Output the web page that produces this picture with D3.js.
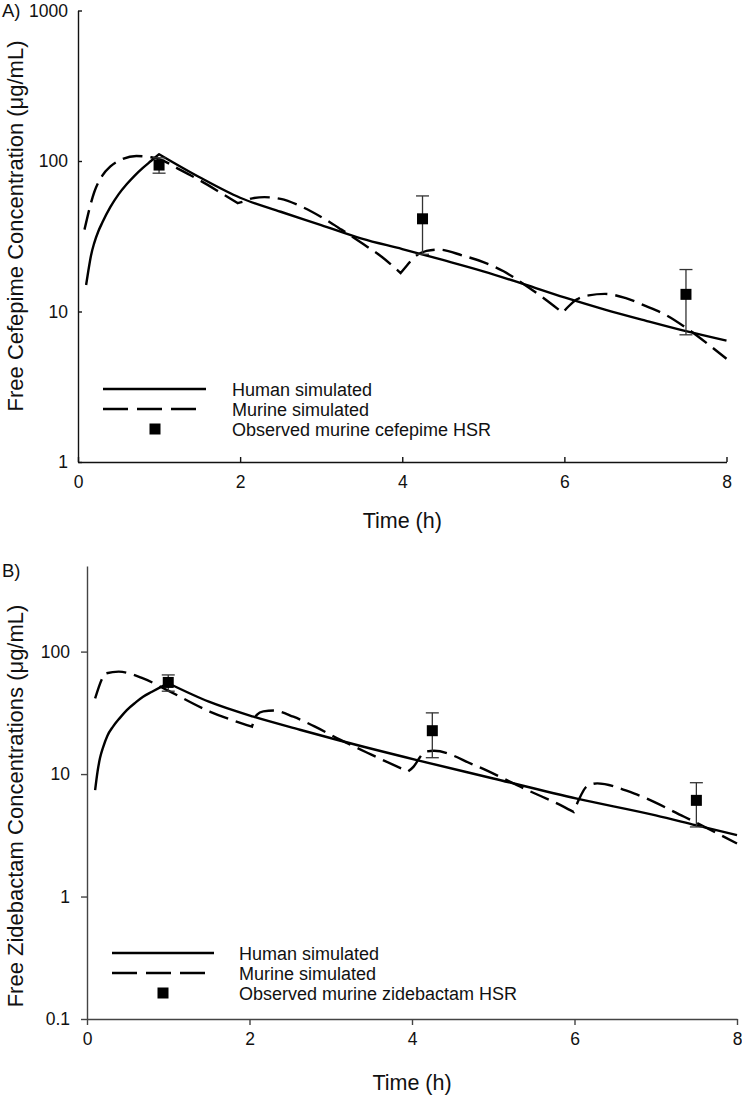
<!DOCTYPE html>
<html>
<head>
<meta charset="utf-8">
<script src="https://cdn.jsdelivr.net/npm/d3@7"></script>
<style>
  html, body { margin: 0; padding: 0; background: #fff; }
  svg { display: block; font-family: "Liberation Sans", Arial, sans-serif; }
</style>
</head>
<body>
<svg id="chart" width="742" height="1096"></svg>
<script>
// ---------------- Data ----------------
// Panel A: cefepime
const humanA_t = [0.1, 0.13, 0.16, 0.2, 0.25, 0.3, 0.4, 0.5, 0.6, 0.7, 0.8, 0.9, 1.0, 1.5, 2.0, 2.5, 3.0, 3.5, 4.0, 4.5, 5.0, 5.5, 6.0, 6.5, 7.0, 7.5, 8.0];
const humanA_c = [15, 19, 23.5, 28.5, 34, 39, 49.5, 60, 70, 80, 90, 100, 111, 78, 57, 46, 37.5, 30.5, 26, 22, 18.5, 15.2, 12.4, 10.3, 8.7, 7.4, 6.4];
const humanA_breaks = [1.0];

const murineA_t = [0.08, 0.2, 0.3, 0.4, 0.55, 0.72, 0.9, 1.0, 1.25, 1.5, 1.75, 1.97, 2.05, 2.15, 2.3, 2.5, 2.75, 3.0, 3.25, 3.5, 3.75, 3.98, 4.05, 4.15, 4.3, 4.45, 4.75, 5.0, 5.25, 5.5, 5.75, 5.98, 6.05, 6.15, 6.3, 6.5, 6.75, 7.0, 7.25, 7.5, 7.75, 8.0];
const murineA_c = [35, 62, 80, 92, 103, 108, 106, 103, 88, 74.5, 62, 52.5, 54, 56.5, 57.5, 56, 50, 42.5, 35, 28.5, 23, 18, 20, 23, 25.3, 25.8, 23.5, 21.3, 18.5, 15.2, 12.2, 9.8, 10.8, 12, 12.8, 13.1, 12.3, 10.9, 9.5, 7.8, 6.2, 4.85];
const murineA_breaks = [1.97, 3.98, 5.98];

const obsA_t = [1, 4.25, 7.5];
const obsA_c = [94, 41.3, 13];
const obsA_sd = [11, 17.3, 6];

// Panel B: zidebactam
const humanB_t = [0.1, 0.13, 0.16, 0.2, 0.25, 0.32, 0.4, 0.49, 0.6, 0.69, 0.8, 0.9, 1.0, 1.5, 2.05, 2.62, 3.12, 4.06, 5.0, 6.03, 7.0, 7.49, 8.0];
const humanB_c = [7.4, 10.5, 13.5, 16.7, 20.5, 24.4, 28.5, 33.3, 38.5, 42.8, 47, 51, 55.2, 39, 29.4, 23, 18.7, 13.0, 9.2, 6.3, 4.6, 3.83, 3.17];
const humanB_breaks = [1.0];

const murineB_t = [0.1, 0.24, 0.39, 0.69, 0.98, 1.51, 2.03, 2.09, 2.17, 2.3, 2.54, 2.8, 3.12, 3.5, 3.95, 4.02, 4.1, 4.16, 4.27, 4.76, 5.42, 5.87, 5.99, 6.05, 6.15, 6.28, 6.73, 7.35, 8.0];
const murineB_c = [41.5, 66.6, 68.6, 60.5, 48.7, 32.4, 24.4, 30.4, 32.5, 33, 29.4, 24.5, 19, 14.4, 10.5, 11.5, 13.8, 15.2, 15.5, 11.9, 7.4, 5.4, 4.9, 6.1, 7.9, 8.4, 6.95, 4.48, 2.71];
const murineB_breaks = [2.03, 3.95, 5.99];

const obsB_t = [1, 4.25, 7.5];
const obsB_c = [56, 22.6, 6.1];
const obsB_sd = [8.5, 9, 2.4];

const xTicks = [0, 2, 4, 6, 8];
const yTicksA = [1, 10, 100, 1000];
const yTicksB = [0.1, 1, 10, 100];

const legendLabels = ["Human simulated", "Murine simulated"];
const obsLabelA = "Observed murine cefepime HSR";
const obsLabelB = "Observed murine zidebactam HSR";
const yTitleA = "Free Cefepime Concentration (\u03bcg/mL)";
const yTitleB = "Free Zidebactam Concentrations (\u03bcg/mL)";

// ---------------- Drawing ----------------
const svg = d3.select("#chart");
const zip = (t, c) => t.map((d, i) => ({t: d, c: c[i]}));

// split a series at kink times and join smooth segments into one path
function segmentedPath(line, pts, breaks) {
  const segs = [];
  let cur = [];
  pts.forEach(p => {
    cur.push(p);
    if (breaks.includes(p.t)) { segs.push(cur); cur = [p]; }
  });
  if (cur.length > 1) segs.push(cur);
  return segs.map((s, i) => {
    const d = line(s);
    return i === 0 ? d : "L" + d.slice(1);
  }).join("");
}

function panel(cfg) {
  const g = svg.append("g");
  const x = d3.scaleLinear().domain([0, 8]).range(cfg.xRange);
  const y = d3.scaleLog().domain(cfg.yDomain).range(cfg.yRange);

  // axes
  const yAxis = d3.axisLeft(y).tickValues(cfg.yTicks).tickFormat(d => String(d))
      .tickSizeInner(cfg.tickIn ? -4 : 6).tickSizeOuter(0).tickPadding(cfg.tickIn ? 10 : 11);
  const gy = g.append("g").attr("transform", `translate(${cfg.xRange[0]},0)`).call(yAxis);
  const xAxis = d3.axisBottom(x).tickValues(xTicks).tickFormat(d => String(d))
      .tickSizeInner(cfg.tickIn ? -5 : 6).tickSizeOuter(0).tickPadding(cfg.tickIn ? 14 : 8);
  const gx = g.append("g").attr("transform", `translate(0,${cfg.yRange[0]})`).call(xAxis);
  [gx, gy].forEach(a => {
    a.selectAll("path.domain").attr("stroke", cfg.axisColor).attr("stroke-width", 1.4);
    a.selectAll(".tick line").attr("stroke", cfg.axisColor).attr("stroke-width", 1.4);
    a.selectAll(".tick text").attr("fill", "#111").style("font-size", "17.5px")
      .style("font-family", '"Liberation Sans", Arial, sans-serif');
  });

  // curves
  const line = d3.line().x(d => x(d.t)).y(d => y(d.c)).curve(d3.curveMonotoneX);
  g.append("path").attr("d", segmentedPath(line, zip(cfg.human_t, cfg.human_c), cfg.human_breaks))
    .attr("fill", "none").attr("stroke", "#000").attr("stroke-width", 2.4).attr("stroke-linejoin", "round");
  g.append("path").attr("d", segmentedPath(line, zip(cfg.murine_t, cfg.murine_c), cfg.murine_breaks))
    .attr("fill", "none").attr("stroke", "#000").attr("stroke-width", 2.4)
    .attr("stroke-dasharray", "20,8");

  // observed with error bars
  const obs = cfg.obs_t.map((t, i) => ({t, c: cfg.obs_c[i], sd: cfg.obs_sd[i]}));
  const eb = g.append("g").selectAll("g").data(obs).join("g");
  eb.append("line").attr("x1", d => x(d.t)).attr("x2", d => x(d.t))
    .attr("y1", d => y(d.c - d.sd)).attr("y2", d => y(d.c + d.sd))
    .attr("stroke", "#333").attr("stroke-width", 1.3);
  eb.append("line").attr("x1", d => x(d.t) - 6.5).attr("x2", d => x(d.t) + 6.5)
    .attr("y1", d => y(d.c + d.sd)).attr("y2", d => y(d.c + d.sd))
    .attr("stroke", "#333").attr("stroke-width", 1.3);
  eb.append("line").attr("x1", d => x(d.t) - 6.5).attr("x2", d => x(d.t) + 6.5)
    .attr("y1", d => y(d.c - d.sd)).attr("y2", d => y(d.c - d.sd))
    .attr("stroke", "#333").attr("stroke-width", 1.3);
  eb.append("rect").attr("x", d => x(d.t) - 5.5).attr("y", d => y(d.c) - 5.5)
    .attr("width", 11).attr("height", 11).attr("fill", "#000");

  // legend
  const L = cfg.legend;
  g.append("line").attr("x1", L.x1).attr("x2", L.x2).attr("y1", L.y).attr("y2", L.y)
    .attr("stroke", "#000").attr("stroke-width", 2.4);
  g.append("line").attr("x1", L.x1).attr("x2", L.x2 - 9).attr("y1", L.y + 20).attr("y2", L.y + 20)
    .attr("stroke", "#000").attr("stroke-width", 2.4).attr("stroke-dasharray", "25,9");
  g.append("rect").attr("x", L.sq - 5.5).attr("y", L.y + 40 - 5.5).attr("width", 11).attr("height", 11).attr("fill", "#000");
  [legendLabels[0], legendLabels[1], cfg.obsLabel].forEach((s, i) => {
    g.append("text").attr("x", L.tx).attr("y", L.y + 7 + i * 20).text(s)
      .style("font-size", "18px").attr("fill", "#111");
  });

  // titles
  g.append("text").attr("x", (cfg.xRange[0] + cfg.xRange[1]) / 2).attr("y", cfg.xTitleY)
    .attr("text-anchor", "middle").style("font-size", "21.5px").attr("fill", "#111").text("Time (h)");
  g.append("text").attr("transform", `translate(${cfg.yTitleX},${cfg.yTitleY}) rotate(-90)`)
    .attr("text-anchor", "middle").style("font-size", "22px").attr("fill", "#111").text(cfg.yTitle);
  g.append("text").attr("x", 2).attr("y", cfg.labelY).style("font-size", "18.5px").attr("fill", "#111").text(cfg.label);
}

panel({
  xRange: [78, 726.5], yDomain: [1, 1000], yRange: [462, 10.5], yTicks: yTicksA,
  tickIn: true, axisColor: "#111",
  human_t: humanA_t, human_c: humanA_c, human_breaks: humanA_breaks,
  murine_t: murineA_t, murine_c: murineA_c, murine_breaks: murineA_breaks,
  obs_t: obsA_t, obs_c: obsA_c, obs_sd: obsA_sd,
  legend: {x1: 103, x2: 206, y: 389, sq: 155, tx: 232},
  obsLabel: obsLabelA, xTitleY: 528, yTitleX: 23, yTitleY: 226, yTitle: yTitleA,
  label: "A)", labelY: 17
});

panel({
  xRange: [87, 737], yDomain: [0.1, 500], yRange: [1019, 566], yTicks: yTicksB,
  tickIn: false, axisColor: "#444",
  human_t: humanB_t, human_c: humanB_c, human_breaks: humanB_breaks,
  murine_t: murineB_t, murine_c: murineB_c, murine_breaks: murineB_breaks,
  obs_t: obsB_t, obs_c: obsB_c, obs_sd: obsB_sd,
  legend: {x1: 112, x2: 214, y: 953, sq: 163, tx: 239},
  obsLabel: obsLabelB, xTitleY: 1090, yTitleX: 23, yTitleY: 806, yTitle: yTitleB,
  label: "B)", labelY: 577
});
</script>
</body>
</html>
